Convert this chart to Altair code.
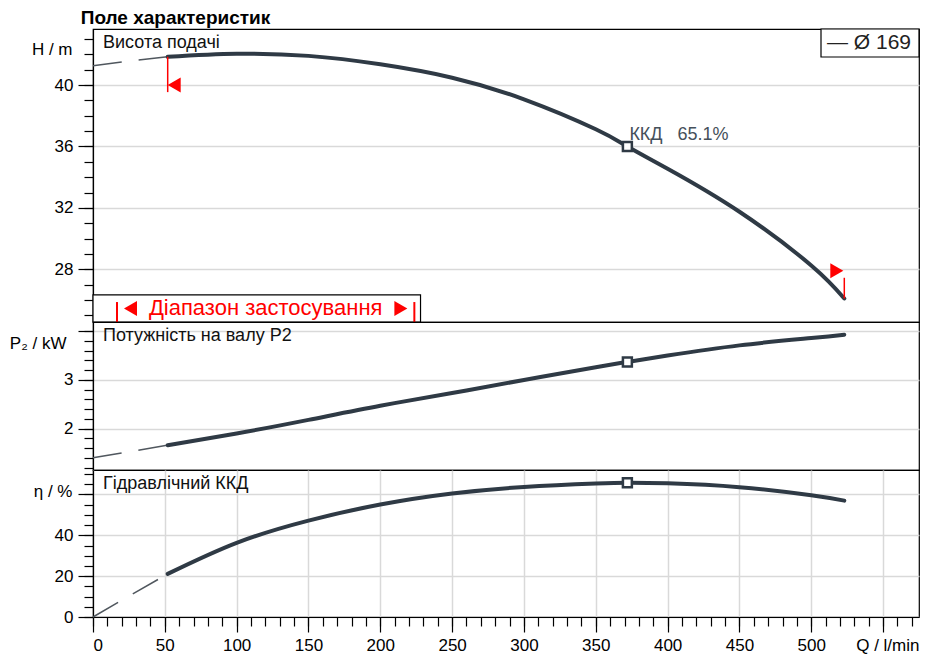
import altair as alt
import pandas as pd

# ---------------- data ----------------
chart_title = "Поле характеристик"
label_h = "Висота подачі"
label_p = "Потужність на валу P2"
label_e = "Гідравлічний ККД"
legend_text = "\u2014 \u00d8 169"
range_text = "Діапазон застосування"
bep_text = "ККД\u00a0\u00a0\u00a065.1%"

# extrapolated (dashed) part of the curves, Q in l/min
q_dash = [0, 26, 52]
h_dash = [41.25, 41.58, 41.84]
p_dash = [1.40, 1.53, 1.66]
e_dash = [0.0, 10.6, 21.1]

# operating (solid) part of the curves
q_curve = [52, 100, 150, 200, 250, 300, 350, 372, 400, 450, 500, 523]
h_curve = [41.84, 42.04, 41.90, 41.35, 40.48, 39.07, 37.12, 36.00, 34.55, 31.75, 28.25, 26.10]
p_curve = [1.66, 1.90, 2.18, 2.47, 2.73, 3.00, 3.26, 3.37, 3.50, 3.71, 3.86, 3.93]
e_curve = [21.1, 36.3, 47.2, 55.1, 60.5, 63.7, 65.4, 65.8, 65.5, 63.6, 59.6, 57.0]

# best efficiency point
bep_q = [372]
bep_h = [36.0]
bep_p = [3.37]
bep_e = [65.8]

# range limit markers (top panel)
lim_q = [52, 523]
lim_y1 = [39.54, 26.10]
lim_y2 = [41.84, 27.45]
lim_tri_h = [40.0, 27.9]

# application range box (top panel)
box_q1 = [0]
box_q2 = [228]
box_h1 = [24.57]
box_h2 = [26.33]
bar_q = [16.7, 223.7]
bar_h1 = [24.57, 24.57]
bar_h2 = [25.87, 25.87]
box_tri_q = [26.1, 214.3]
box_tri_h = [25.45, 25.45]
box_text_q = [120.2]
box_text_h = [25.0]

# axes
x_domain = [0, 575]
h_domain = [24.57, 43.65]
p_domain = [1.15, 4.19]
e_domain = [0, 72]
x_major = list(range(0, 551, 50))
x_minor = list(range(0, 571, 10))
h_major = [28, 32, 36, 40]
h_minor = list(range(25, 44))
p_major = [2, 3, 4]
p_minor = [round(1.2 + 0.2 * i, 1) for i in range(15)]
e_major = [0, 20, 40, 60]
e_minor = list(range(0, 71, 5))

# ---------------- style ----------------
FONT = "Liberation Sans"
CURVE = "#2f3a45"
DASH = "#50575e"
W = 826
H_TOP, H_MID, H_BOT = 293, 148, 147
AX = dict(labelFont=FONT, labelFontSize=17, labelColor="#000", titleFont=FONT, titleFontSize=17,
          titleColor="#000", tickColor="#000", tickWidth=1.2, domainColor="#000", domainWidth=1.2,
          gridColor="#d9d9d9", gridWidth=1.5)

df_dash = pd.DataFrame({"q": q_dash, "h": h_dash, "p": p_dash, "e": e_dash})
df_curve = pd.DataFrame({"q": q_curve, "h": h_curve, "p": p_curve, "e": e_curve})
df_bep = pd.DataFrame({"q": bep_q, "h": bep_h, "p": bep_p, "e": bep_e, "lab": [bep_text]})

xs = alt.Scale(domain=x_domain, nice=False, zero=False)


def yaxis_major(values, title, tx, ty, hide):
    return alt.Axis(values=values, grid=True, tickSize=15, labelPadding=5, orient="left",
                    labelExpr=f"datum.value == {hide} ? '' : datum.label",
                    title=title, titleAngle=0, titleAlign="right", titleX=tx, titleY=ty,
                    titleBaseline="alphabetic", titleFontWeight="normal", **AX)


def yaxis_minor(values):
    return alt.Axis(values=values, labels=False, grid=False, tickSize=9, title=None,
                    orient="left", domain=False, tickColor="#000", tickWidth=1.2)


grid_x = alt.Axis(values=x_major, labels=False, ticks=False, domain=False, title=None, grid=True,
                  orient="bottom", gridColor="#d9d9d9", gridWidth=1.5)
bottom_x = alt.Axis(values=x_major, grid=True, tickSize=15, labelPadding=5, orient="bottom",
                    labelExpr="datum.value > 500 ? '' : datum.label",
                    title="Q / l/min", titleAngle=0, titleX=W, titleY=20, titleAlign="right",
                    titleBaseline="top", titleFontWeight="normal", **AX)
bottom_x_minor = alt.Axis(values=x_minor, labels=False, grid=False, tickSize=9, title=None,
                          orient="bottom", domain=False, tickColor="#000", tickWidth=1.2)


def panel_label(text):
    return alt.Chart(pd.DataFrame({"t": [text]})).mark_text(
        align="left", baseline="alphabetic", font=FONT, fontSize=18, color="#111"
    ).encode(text="t:N", x=alt.value(10), y=alt.value(19))


def curves(field, ys, xaxis_major, xaxis_minor, yaxis_maj, yaxis_min):
    dash = alt.Chart(df_dash).mark_line(strokeDash=[29, 17], strokeWidth=1.5, color=DASH).encode(
        x=alt.X("q:Q", scale=xs, axis=xaxis_minor),
        y=alt.Y(f"{field}:Q", scale=ys, axis=yaxis_min),
    )
    line = alt.Chart(df_curve).mark_line(strokeWidth=4, color=CURVE, interpolate="natural",
                                         strokeCap="round").encode(
        x=alt.X("q:Q", scale=xs, axis=xaxis_major),
        y=alt.Y(f"{field}:Q", scale=ys, axis=yaxis_maj),
    )
    pt = alt.Chart(df_bep).mark_square(size=80, fill="white", stroke=CURVE, strokeWidth=2.5,
                                       opacity=1).encode(
        x=alt.X("q:Q", scale=xs, axis=None),
        y=alt.Y(f"{field}:Q", scale=ys, axis=None),
    )
    return dash, line, pt


# ---------------- top panel (H) ----------------
hs = alt.Scale(domain=h_domain, nice=False, zero=False)
d1, l1, p1 = curves("h", hs, grid_x, None,
                    yaxis_major(h_major, "H / m", -21, 25, 999), yaxis_minor(h_minor))

bep_lab = alt.Chart(df_bep).mark_text(align="left", baseline="alphabetic", dx=2, dy=-6,
                                      font=FONT, fontSize=18, color="#45505a").encode(
    x=alt.X("q:Q", scale=xs, axis=None), y=alt.Y("h:Q", scale=hs, axis=None), text="lab:N")

df_lim = pd.DataFrame({"q": lim_q, "y1": lim_y1, "y2": lim_y2, "t": lim_tri_h})
lim_rules = alt.Chart(df_lim).mark_rule(color="red", strokeWidth=1.5).encode(
    x=alt.X("q:Q", scale=xs, axis=None), y=alt.Y("y1:Q", scale=hs, axis=None), y2="y2:Q")
tri_l = alt.Chart(df_lim.iloc[[0]]).mark_point(shape="triangle-left", filled=True, color="red",
                                               size=225, opacity=1, xOffset=6.5).encode(
    x=alt.X("q:Q", scale=xs, axis=None), y=alt.Y("t:Q", scale=hs, axis=None))
tri_r = alt.Chart(df_lim.iloc[[1]]).mark_point(shape="triangle-right", filled=True, color="red",
                                               size=225, opacity=1, xOffset=-7.5).encode(
    x=alt.X("q:Q", scale=xs, axis=None), y=alt.Y("t:Q", scale=hs, axis=None))

box = alt.Chart(pd.DataFrame({"q1": box_q1, "q2": box_q2, "y1": box_h1, "y2": box_h2})).mark_rect(
    fill="white", stroke="black", strokeWidth=1.2).encode(
    x=alt.X("q1:Q", scale=xs, axis=None), x2="q2:Q",
    y=alt.Y("y1:Q", scale=hs, axis=None), y2="y2:Q")
bars = alt.Chart(pd.DataFrame({"q": bar_q, "y1": bar_h1, "y2": bar_h2})).mark_rule(
    color="red", strokeWidth=2).encode(
    x=alt.X("q:Q", scale=xs, axis=None), y=alt.Y("y1:Q", scale=hs, axis=None), y2="y2:Q")
df_bt = pd.DataFrame({"q": box_tri_q, "h": box_tri_h})
btri_l = alt.Chart(df_bt.iloc[[0]]).mark_point(shape="triangle-left", filled=True, color="red",
                                               size=225, opacity=1).encode(
    x=alt.X("q:Q", scale=xs, axis=None), y=alt.Y("h:Q", scale=hs, axis=None))
btri_r = alt.Chart(df_bt.iloc[[1]]).mark_point(shape="triangle-right", filled=True, color="red",
                                               size=225, opacity=1).encode(
    x=alt.X("q:Q", scale=xs, axis=None), y=alt.Y("h:Q", scale=hs, axis=None))
btext = alt.Chart(pd.DataFrame({"q": box_text_q, "h": box_text_h, "t": [range_text]})).mark_text(
    align="center", baseline="alphabetic", font=FONT, fontSize=22, color="red").encode(
    x=alt.X("q:Q", scale=xs, axis=None), y=alt.Y("h:Q", scale=hs, axis=None), text="t:N")

leg_box = alt.Chart(pd.DataFrame({"t": [legend_text]})).mark_rect(
    fill="white", stroke="black", strokeWidth=1.2).encode(
    x=alt.value(W - 98), x2=alt.value(W), y=alt.value(0), y2=alt.value(28))
leg_txt = alt.Chart(pd.DataFrame({"t": [legend_text]})).mark_text(
    align="left", baseline="alphabetic", font=FONT, fontSize=21, color="#222").encode(
    text="t:N", x=alt.value(W - 92), y=alt.value(20))

top = alt.layer(d1, l1, lim_rules, tri_l, tri_r, box, bars, btri_l, btri_r, btext, p1, bep_lab,
                leg_box, leg_txt, panel_label(label_h)).resolve_axis(y="independent").properties(
    width=W, height=H_TOP)

# ---------------- middle panel (P2) ----------------
ps = alt.Scale(domain=p_domain, nice=False, zero=False)
d2, l2, p2 = curves("p", ps, grid_x, None,
                    yaxis_major(p_major, "P\u2082 / kW", -27, 26, 4), yaxis_minor(p_minor))
mid = alt.layer(d2, l2, p2, panel_label(label_p)).resolve_axis(y="independent").properties(
    width=W, height=H_MID)

# ---------------- bottom panel (eta) ----------------
es = alt.Scale(domain=e_domain, nice=False, zero=False)
d3, l3, p3 = curves("e", es, bottom_x, bottom_x_minor,
                    yaxis_major(e_major, "\u03b7 / %", -21, 26, 60), yaxis_minor(e_minor))
bot = alt.layer(d3, l3, p3, panel_label(label_e)).resolve_axis(
    x="independent", y="independent").properties(width=W, height=H_BOT)

chart = alt.vconcat(top, mid, bot, spacing=0, bounds="flush").properties(
    title=alt.TitleParams(text=chart_title, anchor="start", font=FONT, fontSize=19,
                          fontWeight="bold", color="#000", offset=0, frame="bounds", dx=72),
    padding={"left": 0, "right": 0, "top": 0, "bottom": 0},
    background="white",
).configure_view(stroke="#000", strokeWidth=1.2)

chart.save("out.html", embed_options={"renderer": "svg", "actions": False})
